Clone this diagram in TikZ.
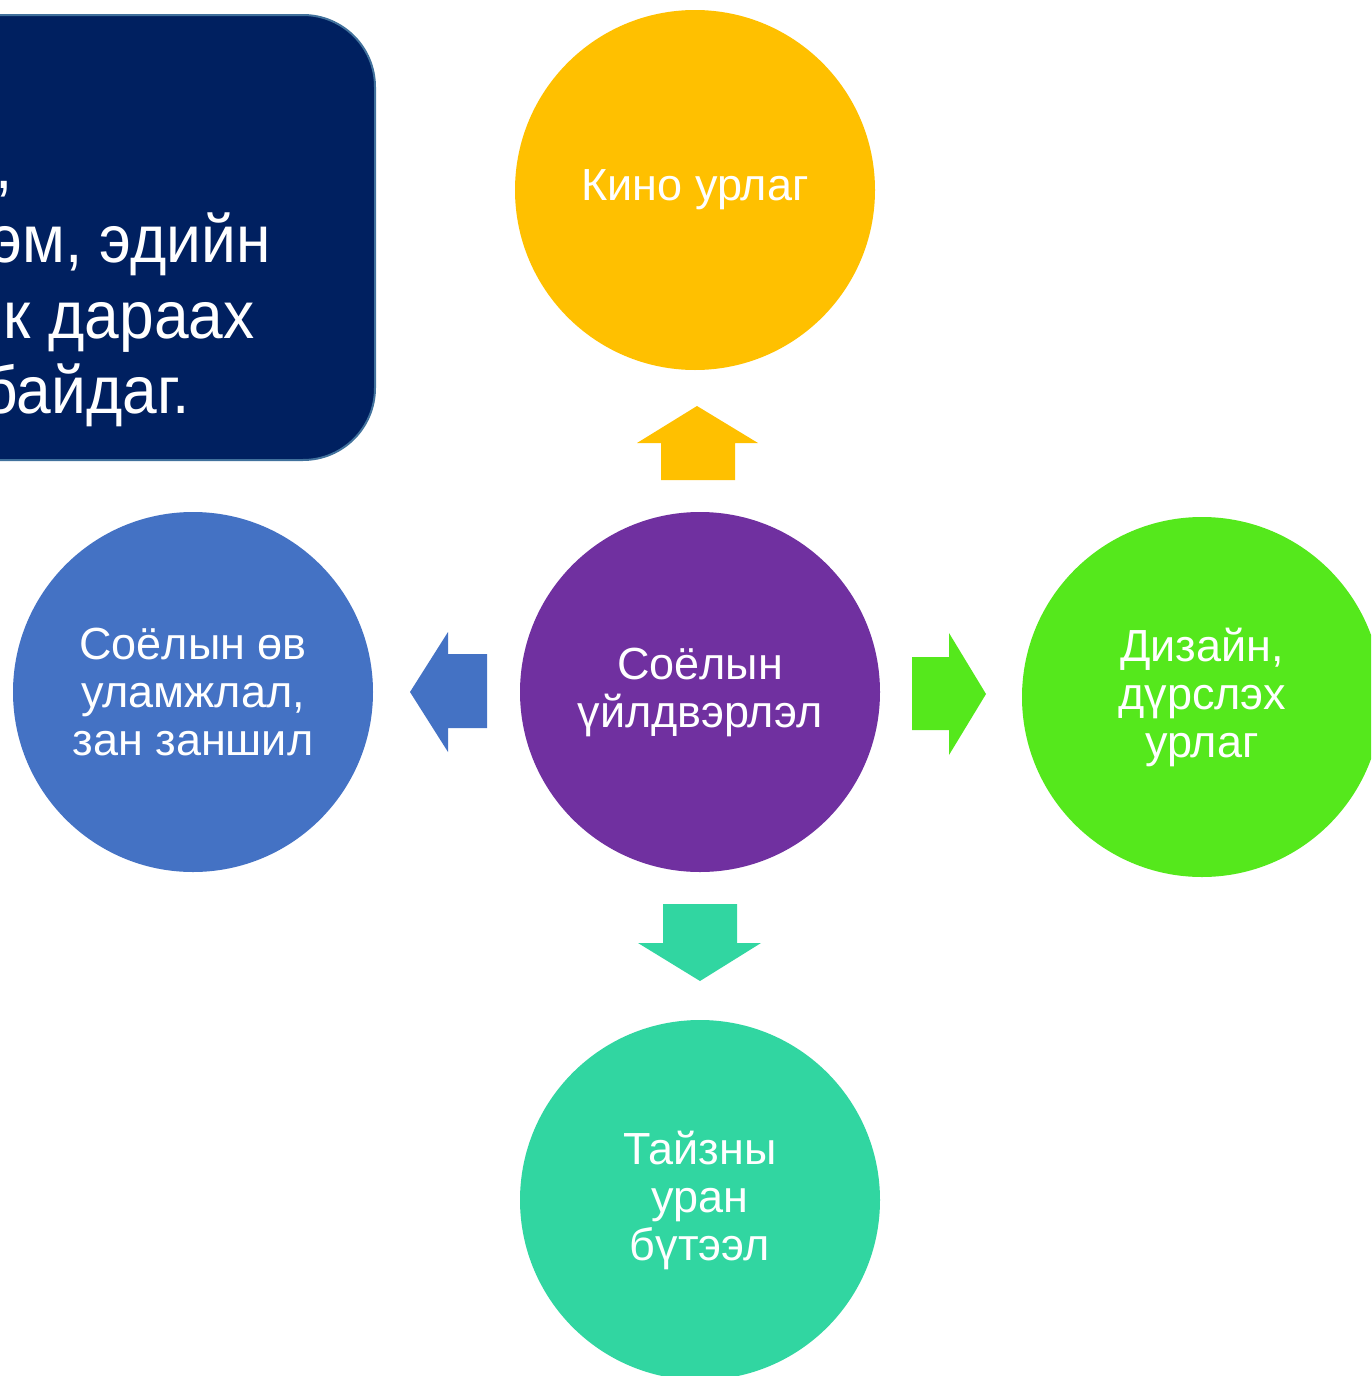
\documentclass[tikz,border=0pt]{standalone}
\usepackage{fontspec}
\setmainfont{Liberation Sans}
\newfontfamily\boxfont[FakeStretch=0.93]{Liberation Sans}
\definecolor{cyellow}{HTML}{FFC000}
\definecolor{cpurple}{HTML}{7030A0}
\definecolor{cblue}{HTML}{4472C4}
\definecolor{cgreen}{HTML}{55E81C}
\definecolor{cteal}{HTML}{31D6A1}
\definecolor{cnavy}{HTML}{002060}
\definecolor{cnavyborder}{HTML}{41719C}
\begin{document}
\begin{tikzpicture}[x=0.5pt,y=-0.5pt,
  bubble/.style={circle, minimum size=180pt, inner sep=0pt, draw=none, text=white, align=center,
    font=\fontsize{22.5}{24}\selectfont},
  boxline/.style={anchor=base east, inner sep=0pt, text=white, font=\boxfont\fontsize{33.5}{38}\selectfont}]
\useasboundingbox (0,0) rectangle (1371,1376);
\begin{scope}
\clip (0,0) rectangle (1371,1376);
% navy text box
\path[fill=cnavy, draw=cnavyborder, line width=1pt, rounded corners=36pt]
  (-120,15) rectangle (375,460);
\node[boxline] (l1) at (13,188) {,};
\node[boxline] (l2) at (271,262) {эм, эдийн};
\node[boxline] (l3) at (255,338) {к дараах};
\node[boxline] (l4) at (190,413) {байдаг.};
% circles
\node[bubble, fill=cyellow] (kino) at (695,190) {Кино урлаг};
\node[bubble, fill=cpurple] (center) at (700,692) {Соёлын\\үйлдвэрлэл};
\node[bubble, fill=cblue] (left) at (193,692) {Соёлын өв\\уламжлал,\\зан заншил};
\node[bubble, fill=cgreen] (right) at (1202,697) {Дизайн,\\дүрслэх\\урлаг};
\node[bubble, fill=cteal] (bottom) at (700,1200) {Тайзны\\уран\\бүтээл};
% block arrows
\fill[cyellow] (661,480) -- (661,443) -- (637,443) -- (697,406) -- (758,443) -- (735,443) -- (735,480) -- cycle;
\fill[cblue] (487,654) -- (448,654) -- (448,632) -- (410,692) -- (448,752) -- (448,728) -- (487,728) -- cycle;
\fill[cgreen] (912,657) -- (949,657) -- (949,633) -- (986,694) -- (949,755) -- (949,730) -- (912,730) -- cycle;
\fill[cteal] (663,904) -- (737,904) -- (737,943) -- (761,943) -- (700,981) -- (638,943) -- (663,943) -- cycle;
\end{scope}
\end{tikzpicture}
\end{document}
